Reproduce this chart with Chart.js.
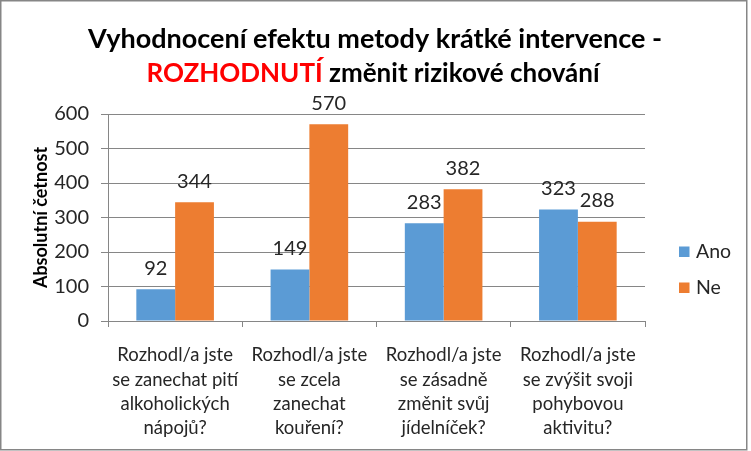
<!DOCTYPE html>
<html>
<head>
<meta charset="utf-8">
<script src="https://cdn.jsdelivr.net/npm/chart.js@4.4.0/dist/chart.umd.min.js"></script>
<style>
html,body{margin:0;padding:0;background:#fff;}
#wrap{width:751px;height:451px;}
</style>
</head>
<body>
<div id="wrap"><canvas id="c" width="751" height="451"></canvas></div>
<script>
const categories = [
  ["Rozhodl/a jste", "se zanechat pití", "alkoholických", "nápojů?"],
  ["Rozhodl/a jste", "se zcela", "zanechat", "kouření?"],
  ["Rozhodl/a jste", "se zásadně", "změnit svůj", "jídelníček?"],
  ["Rozhodl/a jste", "se zvýšit svoji", "pohybovou", "aktivitu?"]
];
const seriesNames = ["Ano", "Ne"];
const anoValues = [92, 149, 283, 323];
const neValues = [344, 570, 382, 288];
const yTickMin = 0, yTickMax = 600, yTickStep = 100;
const titleLine1 = "Vyhodnocení efektu metody krátké intervence -";
const titleLine2Red = "ROZHODNUTÍ";
const titleLine2Rest = " změnit rizikové chování";
const yAxisTitle = "Absolutní četnost";

const FONT = "Lato, 'Liberation Sans', sans-serif";
const TEXT = "#262626";
const GRID = "#868686";

const bgBorder = {
  id: 'bgBorder',
  beforeDraw(chart) {
    const ctx = chart.ctx;
    ctx.save();
    ctx.fillStyle = '#fff';
    ctx.fillRect(0, 0, chart.width, chart.height);
    ctx.strokeStyle = '#868686';
    ctx.lineWidth = 1.5;
    ctx.strokeRect(0.75, 0.75, 746, 449);
    ctx.restore();
  }
};

const titlePlugin = {
  id: 'twoColorTitle',
  afterDraw(chart) {
    const ctx = chart.ctx;
    ctx.save();
    ctx.textBaseline = 'middle';
    ctx.fillStyle = '#000';
    ctx.textAlign = 'center';
    ctx.font = "bold 27px " + FONT;
    ctx.fillText(titleLine1, 375, 39);
    ctx.font = "bold 26px " + FONT;
    const w1 = ctx.measureText(titleLine2Red).width;
    const w2 = ctx.measureText(titleLine2Rest).width;
    let x = 373 - (w1 + w2) / 2;
    ctx.textAlign = 'left';
    ctx.fillStyle = '#FF0000';
    ctx.fillText(titleLine2Red, x, 74);
    ctx.fillStyle = '#000';
    ctx.fillText(titleLine2Rest, x + w1, 74);
    ctx.restore();
  }
};

const valueLabels = {
  id: 'valueLabels',
  afterDatasetsDraw(chart) {
    const ctx = chart.ctx;
    ctx.save();
    ctx.font = "20px " + FONT;
    ctx.fillStyle = TEXT;
    ctx.textAlign = 'center';
    ctx.textBaseline = 'middle';
    chart.data.datasets.forEach((ds, di) => {
      const meta = chart.getDatasetMeta(di);
      meta.data.forEach((bar, i) => {
        ctx.fillText(String(ds.data[i]), bar.x, bar.y - 21);
      });
    });
    ctx.restore();
  }
};

const customLegend = {
  id: 'customLegend',
  afterDraw(chart) {
    const ctx = chart.ctx;
    ctx.save();
    ctx.font = "19.5px " + FONT;
    ctx.textBaseline = 'middle';
    ctx.textAlign = 'left';
    chart.data.datasets.forEach((ds, i) => {
      const cy = 252 + i * 36;
      ctx.fillStyle = ds.backgroundColor;
      ctx.fillRect(679, cy - 5.5, 10.5, 10.5);
      ctx.fillStyle = TEXT;
      ctx.fillText(ds.label, 696, cy);
    });
    ctx.restore();
  }
};

new Chart(document.getElementById('c'), {
  type: 'bar',
  data: {
    labels: categories,
    datasets: [
      { label: seriesNames[0], data: anoValues, backgroundColor: '#5B9BD5' },
      { label: seriesNames[1], data: neValues, backgroundColor: '#ED7D31' }
    ]
  },
  options: {
    responsive: false,
    animation: false,
    devicePixelRatio: 1,
    layout: { padding: { top: 114, right: 106, bottom: 0, left: 0 } },
    datasets: { bar: { categoryPercentage: 0.578, barPercentage: 1.0 } },
    plugins: {
      legend: { display: false },
      title: { display: false },
      tooltip: { enabled: false }
    },
    scales: {
      x: {
        offset: true,
        grid: { display: true, drawOnChartArea: false, drawTicks: true, tickLength: 6, color: GRID, offset: true },
        border: { display: true, color: GRID, width: 1 },
        ticks: { font: { family: FONT, size: 18.5, lineHeight: '24.4px' }, color: TEXT, padding: 16, maxRotation: 0, autoSkip: false },
        afterFit(scale) { scale.height = 130; }
      },
      y: {
        min: yTickMin, max: yTickMax,
        ticks: { stepSize: yTickStep, font: { family: FONT, size: 20 }, color: TEXT, padding: 12 },
        grid: { color: GRID, tickLength: 7, drawTicks: true },
        border: { display: true, color: GRID, width: 1 },
        title: { display: true, text: yAxisTitle, font: { family: FONT, size: 18, weight: 'bold' }, color: '#000', padding: { top: 30, bottom: 0 } },
        afterFit(scale) { scale.width = 108; }
      }
    }
  },
  plugins: [bgBorder, titlePlugin, valueLabels, customLegend]
});
</script>
</body>
</html>
